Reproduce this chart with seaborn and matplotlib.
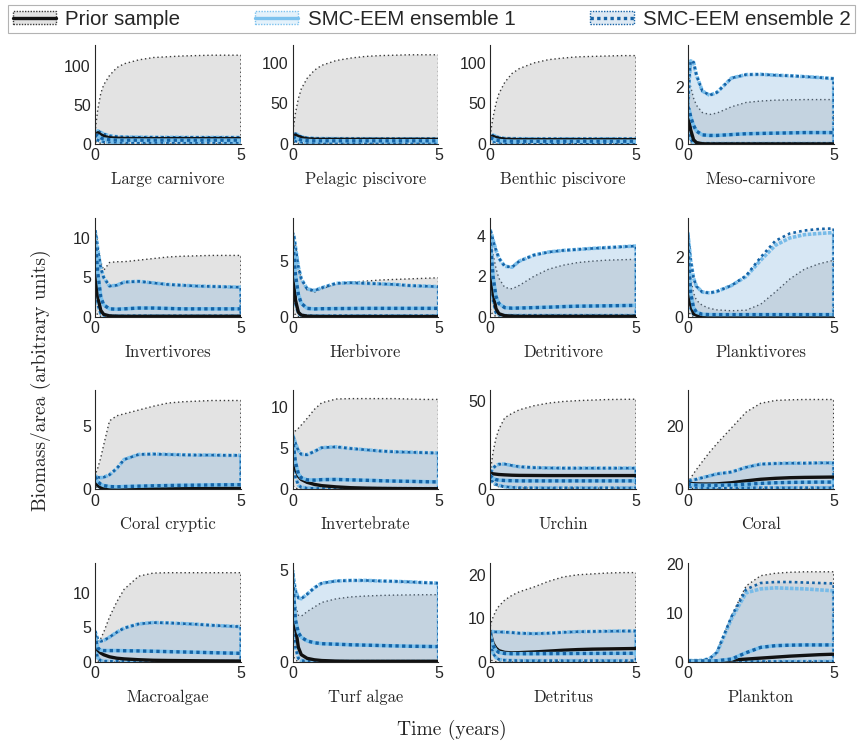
import numpy as np
import matplotlib
matplotlib.use("Agg")
import matplotlib.pyplot as plt
import seaborn as sns
from matplotlib.patches import Patch
from matplotlib.lines import Line2D
from matplotlib.colors import to_rgba
from matplotlib.legend_handler import HandlerTuple

# ---------------- data ----------------
t = [0, 0.05, 0.1, 0.2, 0.3, 0.5, 0.75, 1, 1.5, 2, 2.5, 3, 3.5, 4, 4.5, 5]

titles = ["Large carnivore", "Pelagic piscivore", "Benthic piscivore", "Meso-carnivore",
          "Invertivores", "Herbivore", "Detritivore", "Planktivores",
          "Coral cryptic", "Invertebrate", "Urchin", "Coral",
          "Macroalgae", "Turf algae", "Detritus", "Plankton"]

yticks = [[0, 50, 100], [0, 50, 100], [0, 50, 100], [0, 2],
          [0, 5, 10], [0, 5], [0, 2, 4], [0, 2],
          [0, 5], [0, 5, 10], [0, 50], [0, 20],
          [0, 5, 10], [0, 5], [0, 10, 20], [0, 10, 20]]

ytop = [127, 122, 122, 3.45, 12.6, 8.9, 4.9, 3.33,
        7.8, 12.0, 56, 31.4, 14.3, 5.4, 22.7, 20.3]

prior_hi = [
    [14, 30, 45, 65, 76, 88, 98, 103, 108, 111, 112, 113, 113.5, 114, 114, 114],
    [12, 25, 38, 56, 68, 81, 91, 97, 103, 106, 108, 109, 109.5, 110, 110, 110],
    [10, 22, 33, 50, 62, 76, 87, 93, 100, 104, 106, 107.5, 108, 108.5, 109, 109],
    [2.5, 2.3, 2.0, 1.6, 1.35, 1.1, 1.03, 1.08, 1.3, 1.45, 1.5, 1.53, 1.54, 1.55, 1.55, 1.55],
    [11.5, 10.5, 9, 7, 5.9, 6.9, 7.0, 7.0, 7.2, 7.4, 7.6, 7.7, 7.75, 7.8, 7.8, 7.8],
    [8.1, 7.5, 6.5, 4.6, 3.4, 2.4, 2.2, 2.5, 2.95, 3.1, 3.2, 3.3, 3.35, 3.4, 3.45, 3.5],
    [4.1, 3.6, 3.1, 2.4, 1.9, 1.45, 1.38, 1.55, 2.0, 2.35, 2.55, 2.68, 2.75, 2.8, 2.82, 2.84],
    [2.5, 1.8, 1.3, 0.8, 0.55, 0.38, 0.28, 0.23, 0.2, 0.22, 0.42, 0.83, 1.27, 1.6, 1.78, 1.9],
    [1.2, 1.4, 1.7, 2.5, 3.5, 5.4, 5.8, 5.95, 6.25, 6.55, 6.8, 6.9, 6.95, 7.0, 7.0, 7.0],
    [7.0, 7.0, 7.1, 7.4, 7.8, 8.6, 9.7, 10.5, 10.95, 11.0, 11.0, 11.0, 11.0, 10.95, 10.9, 10.9],
    [9, 15, 21, 29, 34, 40.5, 43, 45, 47.3, 48.8, 49.7, 50.2, 50.5, 50.8, 50.9, 51],
    [2, 2.8, 3.6, 5, 6.3, 8.8, 11.8, 14.5, 19.5, 24.5, 27.3, 28.2, 28.4, 28.5, 28.5, 28.5],
    [4.2, 3.5, 3.0, 3.4, 4.3, 6.5, 8.7, 10.5, 12.4, 12.85, 12.9, 12.9, 12.9, 12.9, 12.9, 12.9],
    [4.8, 3.8, 3.1, 2.55, 2.5, 2.75, 3.0, 3.25, 3.45, 3.55, 3.6, 3.63, 3.65, 3.66, 3.67, 3.67],
    [8, 9.3, 10.3, 11.8, 12.8, 14.2, 15.3, 16.1, 17.2, 18.5, 19.5, 20.0, 20.2, 20.4, 20.5, 20.5],
    [0.3, 0.3, 0.3, 0.3, 0.3, 0.35, 0.7, 2.0, 9.5, 15.6, 17.7, 18.2, 18.4, 18.5, 18.5, 18.5],
]

prior_med = [
    [10, 13, 14.5, 12, 10, 8, 7.5, 7.2, 7, 7, 7, 7, 7, 7, 7, 7],
    [8, 10, 11, 9.5, 8, 6.5, 6, 5.8, 5.8, 5.8, 5.8, 5.8, 5.8, 5.8, 5.8, 5.8],
    [7, 9, 9.5, 8, 7, 6, 5.7, 5.5, 5.5, 5.5, 5.5, 5.5, 5.5, 5.5, 5.5, 5.5],
    [1.2, 0.8, 0.5, 0.15, 0.05, 0.01, 0.005, 0.005, 0.005, 0.005, 0.005, 0.005, 0.005, 0.005, 0.005, 0.005],
    [10, 5, 2.5, 0.8, 0.3, 0.1, 0.06, 0.05, 0.05, 0.05, 0.05, 0.05, 0.05, 0.05, 0.05, 0.05],
    [7, 3.5, 1.5, 0.4, 0.15, 0.05, 0.03, 0.02, 0.02, 0.02, 0.02, 0.02, 0.02, 0.02, 0.02, 0.02],
    [4, 2.2, 1.2, 0.4, 0.15, 0.05, 0.03, 0.02, 0.02, 0.02, 0.02, 0.02, 0.02, 0.02, 0.02, 0.02],
    [2.5, 1.0, 0.4, 0.1, 0.05, 0.02, 0.02, 0.02, 0.02, 0.02, 0.02, 0.02, 0.02, 0.02, 0.02, 0.02],
    [0.9, 0.5, 0.3, 0.15, 0.1, 0.08, 0.08, 0.08, 0.08, 0.08, 0.08, 0.08, 0.08, 0.08, 0.08, 0.08],
    [6.0, 3.8, 2.5, 1.6, 1.2, 0.85, 0.6, 0.45, 0.3, 0.2, 0.15, 0.12, 0.1, 0.09, 0.08, 0.08],
    [9, 9, 8.8, 8.6, 8.4, 8.2, 8.0, 7.9, 7.85, 7.8, 7.8, 7.8, 7.8, 7.8, 7.8, 7.8],
    [2.0, 1.9, 1.85, 1.8, 1.75, 1.7, 1.7, 1.75, 2.1, 2.7, 3.2, 3.5, 3.7, 3.8, 3.85, 3.9],
    [3.5, 2.2, 1.7, 1.3, 1.05, 0.75, 0.55, 0.45, 0.33, 0.25, 0.22, 0.2, 0.18, 0.16, 0.15, 0.14],
    [4.5, 3.0, 1.9, 0.8, 0.4, 0.2, 0.12, 0.08, 0.05, 0.04, 0.04, 0.04, 0.04, 0.04, 0.04, 0.04],
    [7, 5.5, 4.3, 3.2, 2.6, 2.2, 2.1, 2.15, 2.3, 2.5, 2.7, 2.85, 2.95, 3.0, 3.05, 3.1],
    [0.2, 0.2, 0.2, 0.2, 0.2, 0.2, 0.22, 0.25, 0.4, 0.6, 0.8, 1.0, 1.2, 1.35, 1.5, 1.6],
]

prior_lo = [
    [5, 3, 2, 1, 0.5, 0.2, 0.1, 0.05, 0.05, 0.05, 0.05, 0.05, 0.05, 0.05, 0.05, 0.05],
    [4, 2.5, 1.5, 0.8, 0.4, 0.2, 0.1, 0.05, 0.05, 0.05, 0.05, 0.05, 0.05, 0.05, 0.05, 0.05],
    [3, 2, 1.2, 0.6, 0.3, 0.15, 0.1, 0.05, 0.05, 0.05, 0.05, 0.05, 0.05, 0.05, 0.05, 0.05],
    [0.3, 0.15, 0.05, 0.01, 0, 0, 0, 0, 0, 0, 0, 0, 0, 0, 0, 0],
    [1.0, 0.5, 0.2, 0.05, 0.02, 0, 0, 0, 0, 0, 0, 0, 0, 0, 0, 0],
    [0.8, 0.4, 0.15, 0.03, 0.01, 0, 0, 0, 0, 0, 0, 0, 0, 0, 0, 0],
    [0.4, 0.2, 0.08, 0.02, 0.01, 0, 0, 0, 0, 0, 0, 0, 0, 0, 0, 0],
    [0.3, 0.15, 0.05, 0.01, 0, 0, 0, 0, 0, 0, 0, 0, 0, 0, 0, 0],
    [0.5, 0.2, 0.1, 0.03, 0.02, 0.01, 0.01, 0.01, 0.01, 0.01, 0.01, 0.01, 0.01, 0.01, 0.01, 0.01],
    [0.6, 0.3, 0.15, 0.05, 0.02, 0.01, 0, 0, 0, 0, 0, 0, 0, 0, 0, 0],
    [6, 4, 3, 2, 1.5, 1.1, 0.9, 0.8, 0.7, 0.7, 0.7, 0.7, 0.7, 0.7, 0.7, 0.7],
    [0.8, 0.5, 0.35, 0.25, 0.2, 0.15, 0.12, 0.1, 0.1, 0.1, 0.1, 0.1, 0.1, 0.1, 0.1, 0.1],
    [0.6, 0.3, 0.15, 0.05, 0.02, 0.01, 0, 0, 0, 0, 0, 0, 0, 0, 0, 0],
    [0.5, 0.25, 0.1, 0.03, 0.01, 0, 0, 0, 0, 0, 0, 0, 0, 0, 0, 0],
    [0.8, 0.4, 0.2, 0.05, 0.02, 0.01, 0, 0, 0, 0, 0, 0, 0, 0, 0, 0],
    [0.05, 0.05, 0.05, 0.05, 0.05, 0.05, 0.05, 0.05, 0.05, 0.05, 0.05, 0.05, 0.05, 0.05, 0.05, 0.05],
]

ens1_hi = [
    [12, 15, 17, 15, 13, 10.5, 9.5, 9, 8.8, 8.7, 8.6, 8.6, 8.5, 8.5, 8.5, 8.5],
    [10, 12, 13, 11, 9, 7.5, 7, 6.8, 6.7, 6.6, 6.6, 6.5, 6.5, 6.5, 6.5, 6.5],
    [8, 10, 11, 9.5, 8, 7, 6.7, 6.6, 6.5, 6.5, 6.5, 6.5, 6.5, 6.5, 6.5, 6.5],
    [1.15, 2.2, 2.9, 2.85, 2.4, 1.85, 1.7, 1.8, 2.3, 2.42, 2.43, 2.4, 2.38, 2.35, 2.32, 2.28],
    [11, 10, 8.5, 6.2, 5, 3.9, 4.0, 4.4, 4.5, 4.3, 4.1, 4.0, 3.9, 3.85, 3.8, 3.75],
    [7.5, 7.2, 6.3, 4.5, 3.4, 2.5, 2.35, 2.6, 3.0, 3.05, 3.0, 2.95, 2.9, 2.8, 2.75, 2.7],
    [4.3, 4.1, 3.8, 3.3, 2.9, 2.5, 2.45, 2.75, 3.05, 3.2, 3.28, 3.33, 3.38, 3.42, 3.46, 3.5],
    [2.85, 2.4, 1.9, 1.3, 1.02, 0.83, 0.8, 0.85, 1.05, 1.35, 1.9, 2.4, 2.65, 2.76, 2.8, 2.83],
    [1.1, 1.0, 0.95, 0.92, 0.95, 1.15, 1.65, 2.35, 2.75, 2.78, 2.75, 2.72, 2.7, 2.7, 2.68, 2.68],
    [6.6, 6.2, 5.6, 4.7, 4.25, 4.2, 4.6, 5.05, 5.15, 4.95, 4.8, 4.65, 4.55, 4.5, 4.45, 4.4],
    [8.5, 10.5, 12, 13.5, 14.2, 14.3, 13.5, 12.8, 12.3, 12.1, 12, 12, 12, 12, 12, 12],
    [2.6, 2.7, 2.8, 3.0, 3.2, 3.7, 4.3, 4.9, 5.5, 7.0, 8.0, 8.2, 8.3, 8.3, 8.4, 8.4],
    [4.5, 3.8, 3.3, 3.0, 3.1, 3.6, 4.3, 4.9, 5.5, 5.7, 5.65, 5.55, 5.45, 5.3, 5.2, 5.1],
    [5.0, 4.4, 3.9, 3.5, 3.45, 3.7, 4.05, 4.3, 4.42, 4.45, 4.45, 4.42, 4.4, 4.37, 4.33, 4.3],
    [7.0, 7.0, 6.95, 6.9, 6.9, 6.85, 6.75, 6.6, 6.5, 6.6, 6.8, 6.95, 7.0, 7.05, 7.1, 7.1],
    [0.3, 0.3, 0.3, 0.3, 0.3, 0.35, 0.7, 1.9, 8.9, 14.2, 15.0, 15.2, 15.1, 15.0, 14.8, 14.6],
]

ens2_hi = [list(r) for r in ens1_hi]
ens2_hi[7] = [2.85, 2.4, 1.9, 1.3, 1.02, 0.83, 0.8, 0.85, 1.05, 1.38, 2.0, 2.55, 2.8, 2.9, 2.95, 2.97]
ens2_hi[15] = [0.3, 0.3, 0.3, 0.3, 0.3, 0.35, 0.7, 2.0, 9.3, 14.9, 16.2, 16.4, 16.4, 16.3, 16.2, 16.1]

ens_med = [
    [10, 11, 11, 8, 6.5, 5.5, 5, 5, 5, 5, 5, 5, 5, 5, 5, 5],
    [8, 8, 7.5, 6, 5, 4.3, 4, 4, 4, 4, 4, 4, 4, 4, 4, 4],
    [7, 7, 6.5, 5, 4.3, 3.8, 3.5, 3.5, 3.5, 3.5, 3.5, 3.5, 3.5, 3.5, 3.5, 3.5],
    [1.3, 1.2, 0.95, 0.65, 0.45, 0.32, 0.3, 0.3, 0.33, 0.36, 0.37, 0.38, 0.39, 0.4, 0.4, 0.4],
    [10.5, 8, 5.5, 2.5, 1.5, 1.0, 0.95, 1.0, 1.1, 1.1, 1.05, 1.0, 1.0, 1.0, 1.0, 1.0],
    [7, 5.5, 3.8, 2.0, 1.2, 0.75, 0.7, 0.72, 0.73, 0.74, 0.75, 0.75, 0.75, 0.75, 0.75, 0.75],
    [4.0, 3.0, 2.0, 1.0, 0.65, 0.45, 0.42, 0.43, 0.45, 0.47, 0.5, 0.52, 0.53, 0.54, 0.55, 0.56],
    [2.7, 1.6, 0.8, 0.3, 0.15, 0.08, 0.07, 0.07, 0.07, 0.07, 0.07, 0.07, 0.07, 0.07, 0.07, 0.07],
    [1.0, 0.8, 0.6, 0.4, 0.3, 0.22, 0.2, 0.22, 0.25, 0.28, 0.3, 0.32, 0.33, 0.35, 0.36, 0.37],
    [6.3, 4.8, 3.3, 1.9, 1.4, 1.15, 1.12, 1.18, 1.2, 1.15, 1.1, 1.05, 1.0, 0.97, 0.93, 0.9],
    [8, 7, 6.2, 5.5, 5.2, 5.0, 4.9, 4.8, 4.8, 4.8, 4.8, 4.8, 4.8, 4.8, 4.8, 4.8],
    [1.8, 1.6, 1.5, 1.4, 1.35, 1.3, 1.3, 1.3, 1.4, 1.6, 1.9, 2.1, 2.2, 2.25, 2.3, 2.3],
    [4.0, 2.8, 2.0, 1.7, 1.65, 1.65, 1.65, 1.63, 1.6, 1.55, 1.5, 1.45, 1.4, 1.35, 1.3, 1.25],
    [4.8, 3.5, 2.3, 1.6, 1.35, 1.15, 1.05, 1.0, 0.97, 0.94, 0.92, 0.9, 0.88, 0.86, 0.85, 0.84],
    [6.8, 5.0, 3.8, 2.7, 2.2, 1.95, 1.9, 1.9, 1.9, 1.92, 1.94, 1.96, 1.97, 1.98, 1.99, 2.0],
    [0.2, 0.2, 0.2, 0.2, 0.2, 0.2, 0.22, 0.25, 0.6, 1.9, 3.0, 3.35, 3.45, 3.5, 3.5, 3.5],
]

ens_lo = [
    [8, 6, 5, 3.5, 3, 2.5, 2.2, 2, 2, 2, 2, 2, 2, 2, 2, 2],
    [6, 5, 4, 3, 2.5, 2, 1.9, 1.8, 1.8, 1.8, 1.8, 1.8, 1.8, 1.8, 1.8, 1.8],
    [5, 4.5, 3.5, 2.5, 2, 1.7, 1.6, 1.5, 1.5, 1.5, 1.5, 1.5, 1.5, 1.5, 1.5, 1.5],
    [0.9, 0.4, 0.15, 0.05, 0.03, 0.02, 0.02, 0.02, 0.02, 0.02, 0.02, 0.02, 0.02, 0.02, 0.02, 0.02],
    [9, 4, 1.5, 0.4, 0.2, 0.12, 0.1, 0.1, 0.1, 0.1, 0.1, 0.1, 0.1, 0.1, 0.1, 0.1],
    [6, 3, 1.2, 0.3, 0.12, 0.08, 0.08, 0.08, 0.08, 0.08, 0.08, 0.08, 0.08, 0.08, 0.08, 0.08],
    [3.5, 1.8, 0.8, 0.2, 0.1, 0.06, 0.06, 0.06, 0.06, 0.06, 0.06, 0.06, 0.06, 0.06, 0.06, 0.06],
    [2.5, 1.0, 0.3, 0.08, 0.05, 0.04, 0.04, 0.04, 0.04, 0.04, 0.04, 0.04, 0.04, 0.04, 0.04, 0.04],
    [0.9, 0.5, 0.3, 0.12, 0.08, 0.06, 0.06, 0.06, 0.06, 0.06, 0.06, 0.06, 0.06, 0.06, 0.06, 0.06],
    [5.5, 3.0, 1.5, 0.5, 0.25, 0.15, 0.12, 0.1, 0.1, 0.1, 0.1, 0.1, 0.1, 0.1, 0.1, 0.1],
    [7.5, 5.5, 4, 2.8, 2.2, 1.5, 1.1, 0.9, 0.8, 0.8, 0.8, 0.8, 0.8, 0.8, 0.8, 0.8],
    [1.5, 1.0, 0.8, 0.65, 0.6, 0.55, 0.5, 0.5, 0.5, 0.5, 0.5, 0.5, 0.5, 0.5, 0.5, 0.5],
    [3.5, 1.5, 0.6, 0.2, 0.12, 0.1, 0.1, 0.1, 0.1, 0.1, 0.1, 0.1, 0.1, 0.1, 0.1, 0.1],
    [4.5, 2.0, 0.8, 0.2, 0.08, 0.04, 0.03, 0.03, 0.03, 0.03, 0.03, 0.03, 0.03, 0.03, 0.03, 0.03],
    [6.5, 3.5, 2.0, 1.0, 0.6, 0.4, 0.35, 0.3, 0.3, 0.3, 0.3, 0.3, 0.3, 0.3, 0.3, 0.3],
    [0.1, 0.1, 0.1, 0.1, 0.1, 0.1, 0.1, 0.1, 0.1, 0.1, 0.1, 0.1, 0.1, 0.1, 0.1, 0.1],
]

legend_labels = ["Prior sample", "SMC-EEM ensemble 1", "SMC-EEM ensemble 2"]

# ---------------- style ----------------
sns.set_theme(style="white")
plt.rcParams["font.family"] = ["Liberation Sans", "DejaVu Sans"]

GREY_FILL = "#e3e3e3"
E1_LINE = "#7cc2ee"
E2_LINE = "#1563a6"
E1_FILL = to_rgba("#8cc4f0", 0.16)
E2_FILL = to_rgba("#5e92c6", 0.14)
AX_COL = "#262626"
SERIF = ["cmr10", "DejaVu Serif"]

fig = plt.figure(figsize=(8.63, 7.51), dpi=100)
gs = fig.add_gridspec(4, 4, left=0.110, right=0.966, top=0.940, bottom=0.1185,
                      wspace=0.354, hspace=0.744)

for i in range(16):
    ax = fig.add_subplot(gs[i // 4, i % 4])
    ax.fill_between(t, prior_lo[i], prior_hi[i], facecolor=GREY_FILL,
                    edgecolor="#3a3a3a", linestyle=(0, (1, 2)), linewidth=1.0, zorder=1)
    ax.fill_between(t, ens_lo[i], ens1_hi[i], facecolor=E1_FILL,
                    edgecolor=E1_LINE, linestyle=(0, (1, 0.4)), linewidth=2.6, zorder=2)
    ax.fill_between(t, ens_lo[i], ens2_hi[i], facecolor=E2_FILL,
                    edgecolor=E2_LINE, linestyle=(0, (1, 1.2)), linewidth=1.9, zorder=3)
    sns.lineplot(x=t, y=prior_med[i], ax=ax, color="#111111", linewidth=2.4, zorder=4)
    sns.lineplot(x=t, y=ens_med[i], ax=ax, color=E1_LINE, linewidth=2.6, zorder=5)
    sns.lineplot(x=t, y=ens_med[i], ax=ax, color=E2_LINE, linewidth=2.4,
                 linestyle=(0, (1, 1)), zorder=6)
    ax.set_xlim(0, 5)
    ax.set_ylim(0, ytop[i])
    ax.set_xticks([0, 5])
    ax.set_yticks(yticks[i])
    ax.tick_params(axis="both", labelsize=11.5, colors=AX_COL, direction="in",
                   length=2.5, width=0.8, pad=3)
    for s in ["top", "right"]:
        ax.spines[s].set_visible(False)
    for s in ["left", "bottom"]:
        ax.spines[s].set_color(AX_COL)
        ax.spines[s].set_linewidth(0.8)
        ax.spines[s].set_zorder(10)
    ax.set_xlabel(titles[i], fontsize=12, family=SERIF, color=AX_COL, labelpad=6)
    ax.set_ylabel("")

fig.text(0.047, 0.494, "Biomass/area (arbitrary units)", rotation=90,
         ha="center", va="center", fontsize=14, family=SERIF, color=AX_COL)
fig.text(0.523, 0.028, "Time (years)", ha="center", va="center",
         fontsize=14, family=SERIF, color=AX_COL)

h_prior = (Patch(facecolor=GREY_FILL, edgecolor="#3a3a3a", linestyle=(0, (1, 1)), linewidth=1.0),
           Line2D([], [], color="#111111", linewidth=2.4))
h_e1 = (Patch(facecolor=to_rgba("#8cc4f0", 0.22), edgecolor=E1_LINE, linestyle=(0, (1, 1)), linewidth=1.0),
        Line2D([], [], color=E1_LINE, linewidth=2.4))
h_e2 = (Patch(facecolor=to_rgba("#5e92c6", 0.2), edgecolor=E2_LINE, linestyle=(0, (1, 1)), linewidth=1.0),
        Line2D([], [], color=E2_LINE, linewidth=2.4, linestyle=(0, (1, 1))))

leg = fig.legend([h_prior, h_e1, h_e2], legend_labels,
                 handler_map={tuple: HandlerTuple(ndivide=1, pad=0)},
                 loc="lower left", bbox_to_anchor=(0.0093, 0.956, 0.9815, 0.041),
                 mode="expand", ncol=3, fontsize=14.8, frameon=True, fancybox=False,
                 edgecolor="#a0a0a0", borderaxespad=0, handlelength=2.1,
                 handleheight=0.6, handletextpad=0.45, borderpad=0.22)
leg.get_frame().set_linewidth(0.8)

fig.savefig("out.png", dpi=100)
